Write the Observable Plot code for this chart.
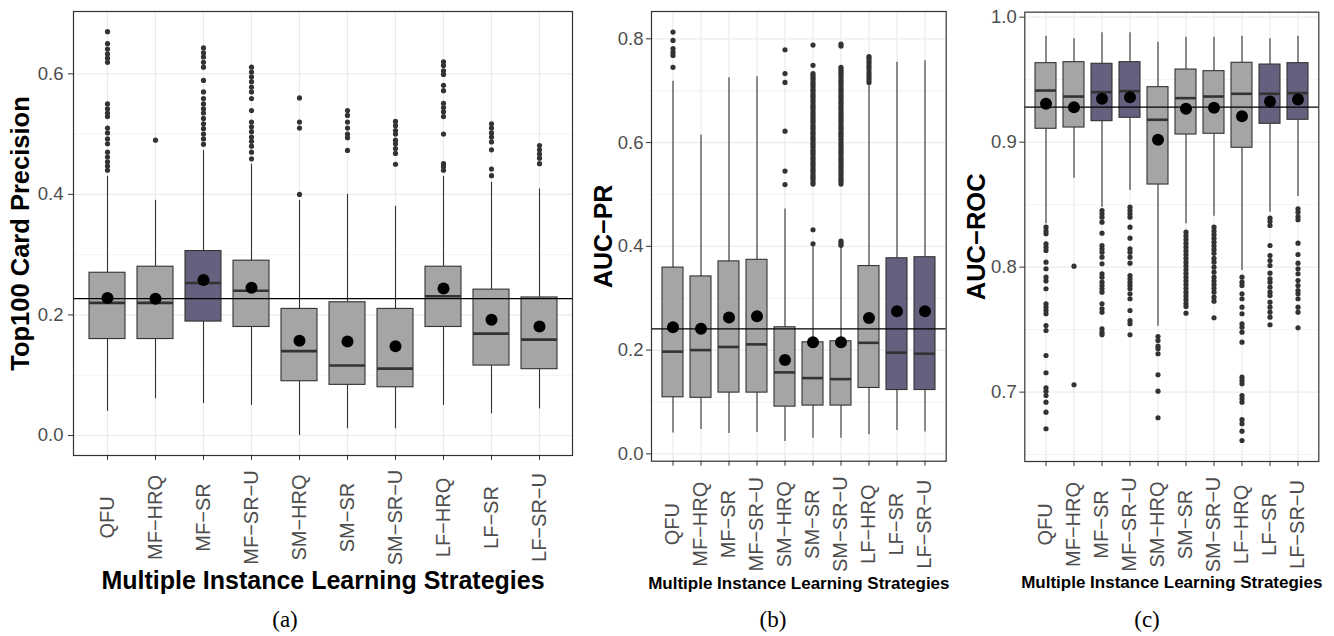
<!DOCTYPE html>
<html><head><meta charset="utf-8">
<script src="https://cdn.jsdelivr.net/npm/d3@7"></script>
<script src="https://cdn.jsdelivr.net/npm/@observablehq/plot@0.6"></script>
<style>
body{margin:0;background:#fff;}
#wrap{position:relative;width:1334px;height:636px;overflow:hidden;background:#fff;}
.panel{position:absolute;top:0;}
.cap{position:absolute;top:607px;font-family:"Liberation Serif","DejaVu Serif",serif;font-size:23px;line-height:26px;transform:translateX(-50%);color:#000;}
</style></head>
<body><div id="wrap"></div>
<script>
// ---------- data ----------
const strategies = ["QFU","MF−HRQ","MF−SR","MF−SR−U","SM−HRQ","SM−SR","SM−SR−U","LF−HRQ","LF−SR","LF−SR−U"];
const xTitle = "Multiple Instance Learning Strategies";

// (a) Top100 Card Precision
const aTitle = "Top100 Card Precision";
const aTicks = [0.0, 0.2, 0.4, 0.6];
const aMinor = [0.1, 0.3, 0.5];
const aQ1   = [0.160, 0.160, 0.189, 0.180, 0.090, 0.084, 0.080, 0.180, 0.116, 0.110];
const aMed  = [0.220, 0.220, 0.253, 0.240, 0.140, 0.116, 0.111, 0.231, 0.169, 0.159];
const aQ3   = [0.270, 0.280, 0.306, 0.290, 0.210, 0.221, 0.210, 0.280, 0.242, 0.229];
const aLo   = [0.040, 0.061, 0.053, 0.050, 0.000, 0.011, 0.011, 0.050, 0.036, 0.044];
const aHi   = [0.430, 0.390, 0.473, 0.450, 0.390, 0.400, 0.380, 0.430, 0.420, 0.409];
const aMean = [0.228, 0.227, 0.258, 0.245, 0.157, 0.156, 0.148, 0.244, 0.192, 0.181];
const aOut = [
  [0.670,0.650,0.641,0.633,0.626,0.619,0.550,0.542,0.535,0.529,0.510,0.502,0.492,0.484,0.470,0.462,0.454,0.447,0.440],
  [0.490],
  [0.643,0.635,0.628,0.619,0.611,0.589,0.570,0.559,0.550,0.542,0.535,0.526,0.517,0.509,0.500,0.492,0.483],
  [0.611,0.603,0.595,0.587,0.578,0.570,0.559,0.539,0.520,0.512,0.504,0.495,0.488,0.480,0.470,0.459],
  [0.560,0.520,0.510,0.400],
  [0.539,0.531,0.520,0.510,0.500,0.494,0.473],
  [0.521,0.514,0.506,0.500,0.490,0.484,0.476,0.468,0.450],
  [0.620,0.614,0.605,0.599,0.581,0.572,0.551,0.544,0.537,0.529,0.500,0.451,0.446,0.440],
  [0.517,0.510,0.502,0.495,0.487,0.474,0.442,0.431],
  [0.481,0.474,0.467,0.460,0.451]
];
const aHighlight = ["MF−SR"];
const aRef = 0.227;

// (b) AUC-PR
const bTitle = "AUC−PR";
const bTicks = [0.0, 0.2, 0.4, 0.6, 0.8];
const bMinor = [0.1, 0.3, 0.5, 0.7];
const bQ1   = [0.109, 0.108, 0.118, 0.118, 0.091, 0.093, 0.093, 0.127, 0.123, 0.123];
const bMed  = [0.197, 0.200, 0.206, 0.211, 0.157, 0.146, 0.144, 0.214, 0.195, 0.193];
const bQ3   = [0.359, 0.342, 0.371, 0.374, 0.244, 0.215, 0.217, 0.362, 0.377, 0.379];
const bLo   = [0.040, 0.047, 0.039, 0.041, 0.024, 0.030, 0.030, 0.037, 0.045, 0.042];
const bHi   = [0.718, 0.614, 0.725, 0.727, 0.472, 0.400, 0.400, 0.713, 0.755, 0.758];
const bMean = [0.244, 0.241, 0.263, 0.265, 0.181, 0.215, 0.215, 0.262, 0.275, 0.275];
const bOut = [
  [0.813,0.797,0.781,0.774,0.768,0.745],
  [],
  [],
  [],
  [0.779,0.733,0.716,0.622,0.545,0.519],
  [0.788,0.749,0.733,0.729,0.725,0.721,0.716,0.712,0.708,0.703,0.699,0.694,0.690,0.686,0.681,0.677,0.672,0.668,0.664,0.659,0.655,0.651,0.646,0.642,0.638,0.633,0.629,0.625,0.620,0.616,0.611,0.607,0.603,0.598,0.594,0.590,0.585,0.581,0.577,0.572,0.568,0.563,0.559,0.555,0.550,0.546,0.542,0.537,0.533,0.529,0.524,0.520,0.432,0.405],
  [0.790,0.786,0.745,0.741,0.737,0.733,0.729,0.725,0.720,0.716,0.712,0.707,0.703,0.699,0.694,0.690,0.686,0.681,0.677,0.673,0.668,0.664,0.659,0.655,0.651,0.646,0.642,0.638,0.633,0.629,0.625,0.620,0.616,0.612,0.607,0.603,0.598,0.594,0.590,0.585,0.581,0.577,0.572,0.568,0.564,0.559,0.555,0.551,0.546,0.542,0.538,0.533,0.529,0.525,0.520,0.410,0.406,0.402],
  [0.766,0.762,0.757,0.752,0.747,0.742,0.736,0.731,0.726,0.721,0.716],
  [],
  []
];
const bHighlight = ["LF−SR","LF−SR−U"];
const bRef = 0.241;

// (c) AUC-ROC
const cTitle = "AUC−ROC";
const cTicks = [0.7, 0.8, 0.9, 1.0];
const cMinor = [0.65, 0.75, 0.85, 0.95];
const cQ1   = [0.9107, 0.9117, 0.9168, 0.9195, 0.8661, 0.9061, 0.9067, 0.8955, 0.9147, 0.9179];
const cMed  = [0.9413, 0.9365, 0.9400, 0.9408, 0.9179, 0.9352, 0.9365, 0.9387, 0.9387, 0.9392];
const cQ3   = [0.9632, 0.9640, 0.9627, 0.9640, 0.9440, 0.9581, 0.9568, 0.9635, 0.9621, 0.9632];
const cLo   = [0.8347, 0.8712, 0.8480, 0.8613, 0.7528, 0.8347, 0.8408, 0.7973, 0.8440, 0.8565];
const cHi   = [0.9848, 0.9827, 0.9875, 0.9875, 0.9800, 0.9840, 0.9840, 0.9848, 0.9827, 0.9848];
const cMean = [0.9307, 0.9280, 0.9347, 0.9360, 0.9019, 0.9267, 0.9275, 0.9208, 0.9325, 0.9341];
const cOut = [
  [0.832,0.829,0.8267,0.8187,0.816,0.8133,0.804,0.7987,0.792,0.789,0.7827,0.7707,0.768,0.7653,0.7627,0.7533,0.7493,0.7293,0.7155,0.7035,0.7008,0.6973,0.692,0.684,0.6707],
  [0.8008,0.7059],
  [0.8453,0.8427,0.840,0.836,0.8272,0.8173,0.8147,0.812,0.808,0.8027,0.7947,0.792,0.788,0.7853,0.7827,0.780,0.7707,0.7667,0.764,0.7507,0.748,0.746],
  [0.848,0.8453,0.8427,0.840,0.832,0.8232,0.8147,0.812,0.808,0.8032,0.7933,0.7907,0.788,0.7853,0.7827,0.7787,0.7747,0.7653,0.7573,0.7547,0.7459],
  [0.7445,0.7413,0.7368,0.7347,0.7307,0.7139,0.7008,0.6795],
  [0.828,0.825,0.822,0.819,0.816,0.813,0.810,0.807,0.804,0.801,0.798,0.795,0.792,0.789,0.786,0.783,0.780,0.777,0.774,0.771,0.7685,0.7632],
  [0.832,0.829,0.826,0.823,0.820,0.817,0.814,0.811,0.807,0.804,0.800,0.796,0.792,0.789,0.786,0.783,0.780,0.776,0.7728,0.7595],
  [0.792,0.788,0.7853,0.7787,0.7747,0.768,0.7627,0.7547,0.752,0.748,0.740,0.712,0.7093,0.7067,0.6973,0.6947,0.692,0.678,0.6747,0.6688,0.6613],
  [0.8392,0.8365,0.8333,0.8173,0.8093,0.8053,0.8013,0.7952,0.7907,0.788,0.784,0.780,0.7773,0.772,0.768,0.764,0.760,0.7539],
  [0.8467,0.844,0.8405,0.8379,0.8192,0.8101,0.8032,0.7987,0.7947,0.7893,0.7853,0.7813,0.7787,0.7747,0.768,0.764,0.7515]
];
const cHighlight = ["MF−SR","MF−SR−U","LF−SR","LF−SR−U"];
const cRef = 0.928;

// ---------- drawing ----------
const GREY = "#A5A5A5", PURPLE = "#65607E", DARK = "#333333";
const FONT = "'Liberation Sans', Arial, Helvetica, sans-serif";

function makePanel(o) {
  const rows = strategies.map((s, i) => ({
    s, q1: o.q1[i], med: o.med[i], q3: o.q3[i], lo: o.lo[i], hi: o.hi[i], mean: o.mean[i],
    hl: o.highlight.includes(s)
  }));
  const outs = strategies.flatMap((s, i) => o.out[i].map(v => ({s, v})));
  const chart = Plot.plot({
    width: o.width, height: 600,
    marginLeft: o.mL, marginRight: o.mR, marginTop: o.mT, marginBottom: o.mB,
    style: {fontFamily: FONT, overflow: "visible", background: "transparent"},
    x: {type: "band", domain: strategies, paddingInner: 0.25, paddingOuter: 0.225},
    y: {domain: o.yDomain},
    marks: [
      Plot.gridY({ticks: o.minor, stroke: "#EBEBEB", strokeOpacity: 1, strokeWidth: 0.6}),
      Plot.gridY({ticks: o.ticks, stroke: "#EBEBEB", strokeOpacity: 1, strokeWidth: 1.2}),
      Plot.gridX({stroke: "#EBEBEB", strokeOpacity: 1, strokeWidth: 1.2}),
      Plot.ruleX(rows, {x: "s", y1: "q3", y2: "hi", stroke: DARK, strokeWidth: 1.1}),
      Plot.ruleX(rows, {x: "s", y1: "lo", y2: "q1", stroke: DARK, strokeWidth: 1.1}),
      Plot.barY(rows, {x: "s", y1: "q1", y2: "q3", fill: d => d.hl ? PURPLE : GREY, stroke: DARK, strokeWidth: 1.1}),
      Plot.tickY(rows, {x: "s", y: "med", stroke: DARK, strokeWidth: 2.6}),
      Plot.dot(outs, {x: "s", y: "v", r: 2.6, fill: DARK, stroke: "none"}),
      Plot.ruleY([o.ref], {stroke: "#000", strokeWidth: 1.3}),
      Plot.dot(rows, {x: "s", y: "mean", r: 6, fill: "#000", stroke: "none"}),
      Plot.axisY({ticks: o.ticks, tickFormat: d3.format(".1f"), tickSize: 5, tickPadding: o.tickPad,
                  fontSize: 18.5, fill: "#4D4D4D", stroke: DARK, label: null}),
      Plot.axisX({tickSize: 5, tickRotate: -90, textAnchor: "middle", lineAnchor: "middle", tickPadding: o.xLabPad,
                  fontSize: 20, fill: "#4D4D4D", stroke: DARK, label: null}),
      Plot.text([o.title], {text: d => d, frameAnchor: "left", rotate: -90, dx: o.yTitleDx, textAnchor: "middle", lineAnchor: "middle",
                  fontSize: o.yTitleSize, fontWeight: "bold", fill: "#000"}),
      Plot.text([xTitle], {text: d => d, frameAnchor: "bottom", dy: o.xTitleDy, textAnchor: "middle", lineAnchor: "middle",
                  fontSize: o.xTitleSize, fontWeight: "bold", fill: "#000"}),
      Plot.frame({stroke: DARK, strokeWidth: 1.2})
    ]
  });
  chart.classList.add("panel");
  chart.style.left = o.left + "px";
  chart.style.position = "absolute";
  chart.style.top = "0px";
  return chart;
}

const wrap = document.getElementById("wrap");
wrap.appendChild(makePanel({
  left: 0, width: 580, mL: 73, mR: 8, mT: 11, mB: 145, yDomain: [-0.0332, 0.7034],
  ticks: aTicks, minor: aMinor, q1: aQ1, med: aMed, q3: aQ3, lo: aLo, hi: aHi, mean: aMean, out: aOut,
  highlight: aHighlight, ref: aRef, title: aTitle, yTitleDx: -52.5, yTitleSize: 25.5,
  xTitleDy: 125, xTitleSize: 25, tickPad: 5, xLabPad: 57
}));
wrap.appendChild(makePanel({
  left: 580, width: 375, mL: 71, mR: 9.3, mT: 11, mB: 139.3, yDomain: [-0.0142, 0.8527],
  ticks: bTicks, minor: bMinor, q1: bQ1, med: bMed, q3: bQ3, lo: bLo, hi: bHi, mean: bMean, out: bOut,
  highlight: bHighlight, ref: bRef, title: bTitle, yTitleDx: -48, yTitleSize: 25,
  xTitleDy: 122, xTitleSize: 17, tickPad: 3, xLabPad: 58
}));
wrap.appendChild(makePanel({
  left: 955, width: 379, mL: 69.3, mR: 15.7, mT: 11.67, mB: 139, yDomain: [0.6445, 1.004],
  ticks: cTicks, minor: cMinor, q1: cQ1, med: cMed, q3: cQ3, lo: cLo, hi: cHi, mean: cMean, out: cOut,
  highlight: cHighlight, ref: cRef, title: cTitle, yTitleDx: -47.8, yTitleSize: 25.5,
  xTitleDy: 121.5, xTitleSize: 17, tickPad: 3, xLabPad: 58
}));

[["(a)", 285], ["(b)", 773], ["(c)", 1147]].forEach(([t, x]) => {
  const d = document.createElement("div");
  d.className = "cap";
  d.style.left = x + "px";
  d.textContent = t;
  wrap.appendChild(d);
});
</script>
</body></html>
